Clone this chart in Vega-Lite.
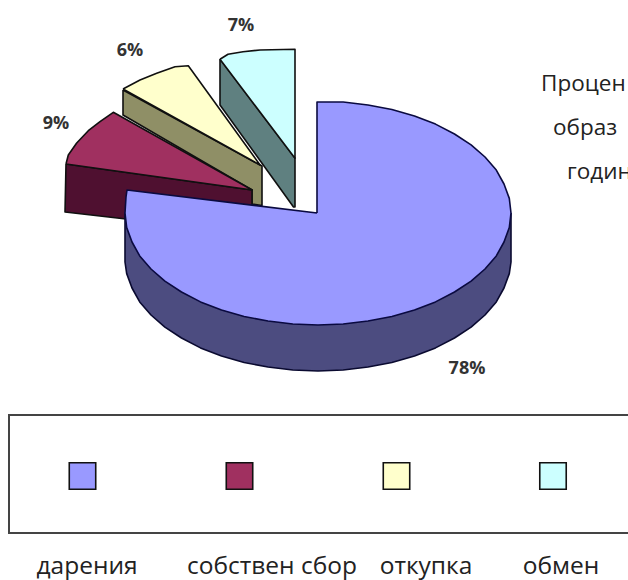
{"$schema":"https://vega.github.io/schema/vega-lite/v6.json","width":628,"height":580,"padding":0,"autosize":"none","background":"white","view":{"stroke":null},
"resolve":{"scale":{"fill":"independent"}},
"datasets":{
"shapes":[
{"p":"a","x":220,"y":59},{"p":"a","x":220,"y":105},{"p":"a","x":293.5,"y":207},{"p":"a","x":295,"y":207},{"p":"a","x":295,"y":158},{"p":"a","x":220,"y":59},
{"p":"b","x":220,"y":59.3},{"p":"b","x":228,"y":54.3},{"p":"b","x":243,"y":51.7},{"p":"b","x":260,"y":50},{"p":"b","x":295,"y":49.3},{"p":"b","x":295,"y":158.3},{"p":"b","x":220,"y":59.3},
{"p":"c","x":123,"y":90},{"p":"c","x":123,"y":115},{"p":"c","x":252,"y":190},{"p":"c","x":252,"y":204},{"p":"c","x":262,"y":205.5},{"p":"c","x":262,"y":166},{"p":"c","x":123,"y":90},
{"p":"d","x":123,"y":89},{"p":"d","x":140,"y":80},{"p":"d","x":156.7,"y":73.3},{"p":"d","x":175,"y":66.7},{"p":"d","x":188.3,"y":65.7},{"p":"d","x":260,"y":165},{"p":"d","x":123,"y":89},
{"p":"e","x":66,"y":164},{"p":"e","x":65,"y":212},{"p":"e","x":126,"y":219},{"p":"e","x":252,"y":206},{"p":"e","x":252,"y":190},{"p":"e","x":66,"y":164},
{"p":"f","x":66,"y":164},{"p":"f","x":68.3,"y":155},{"p":"f","x":76.7,"y":143},{"p":"f","x":88.3,"y":130.7},{"p":"f","x":100,"y":121.7},{"p":"f","x":113.3,"y":112.3},{"p":"f","x":252.3,"y":190},{"p":"f","x":66,"y":164},
{"p":"g","x":511,"y":213},{"p":"g","x":511,"y":262},{"p":"g","x":509.3,"y":273.6},{"p":"g","x":504,"y":288},{"p":"g","x":496.3,"y":301.9},{"p":"g","x":485,"y":315},{"p":"g","x":471.1,"y":327.2},{"p":"g","x":454.5,"y":338},{"p":"g","x":435.5,"y":347.9},{"p":"g","x":414.5,"y":356},{"p":"g","x":391.9,"y":362.5},{"p":"g","x":368,"y":367},{"p":"g","x":343.2,"y":370},{"p":"g","x":318,"y":371},{"p":"g","x":292.8,"y":370},{"p":"g","x":268,"y":367},{"p":"g","x":244.1,"y":362.5},{"p":"g","x":221.5,"y":356},{"p":"g","x":200.5,"y":347.9},{"p":"g","x":181.5,"y":338},{"p":"g","x":164.9,"y":327.2},{"p":"g","x":151,"y":315},{"p":"g","x":139.7,"y":301.9},{"p":"g","x":132,"y":288},{"p":"g","x":126.7,"y":273.6},{"p":"g","x":125,"y":262},{"p":"g","x":125,"y":213},{"p":"g","x":511,"y":213},
{"p":"h","x":317,"y":213},{"p":"h","x":317,"y":102},{"p":"h","x":343.2,"y":102},{"p":"h","x":368,"y":105},{"p":"h","x":391.9,"y":109.5},{"p":"h","x":414.5,"y":116},{"p":"h","x":435.5,"y":124.1},{"p":"h","x":454.5,"y":134},{"p":"h","x":471.1,"y":144.8},{"p":"h","x":485,"y":157},{"p":"h","x":496.3,"y":170.1},{"p":"h","x":504,"y":184},{"p":"h","x":509.3,"y":198.4},{"p":"h","x":511,"y":213},{"p":"h","x":509.3,"y":227.6},{"p":"h","x":504,"y":242},{"p":"h","x":496.3,"y":255.9},{"p":"h","x":485,"y":269},{"p":"h","x":471.1,"y":281.2},{"p":"h","x":454.5,"y":292},{"p":"h","x":435.5,"y":301.9},{"p":"h","x":414.5,"y":310},{"p":"h","x":391.9,"y":316.5},{"p":"h","x":368,"y":321},{"p":"h","x":343.2,"y":324},{"p":"h","x":318,"y":325},{"p":"h","x":292.8,"y":324},{"p":"h","x":268,"y":321},{"p":"h","x":244.1,"y":316.5},{"p":"h","x":221.5,"y":310},{"p":"h","x":200.5,"y":301.9},{"p":"h","x":181.5,"y":292},{"p":"h","x":164.9,"y":281.2},{"p":"h","x":151,"y":269},{"p":"h","x":139.7,"y":255.9},{"p":"h","x":132,"y":242},{"p":"h","x":126.7,"y":227.6},{"p":"h","x":125,"y":213},{"p":"h","x":126,"y":197},{"p":"h","x":127,"y":190},{"p":"h","x":317,"y":213}
],
"frame":[{"x":628,"y":415},{"x":9,"y":415},{"x":9,"y":533},{"x":628,"y":533}],
"pct":[{"t":"7%","x":241,"y":26},{"t":"6%","x":130,"y":51},{"t":"9%","x":56,"y":124},{"t":"78%","x":467,"y":369}],
"title":[{"t":"Процен","x":541,"y":84},{"t":"образ","x":553,"y":128},{"t":"годин","x":567,"y":172}],
"legend":[{"c":"дарения","x":82.5,"y":476,"lx":87,"ly":567},{"c":"собствен сбор","x":239.5,"y":476,"lx":272,"ly":567},{"c":"откупка","x":396.5,"y":476,"lx":426,"ly":567},{"c":"обмен","x":553,"y":476,"lx":561,"ly":567}]
},
"layer":[
{"data":{"name":"shapes"},"mark":{"type":"line","strokeWidth":1.6,"strokeJoin":"round"},"encoding":{
"x":{"field":"x","type":"quantitative","scale":{"domain":[0,628],"nice":false},"axis":null},
"y":{"field":"y","type":"quantitative","scale":{"domain":[580,0],"nice":false},"axis":null},
"detail":{"field":"p"},"order":{"value":null},
"fill":{"field":"p","type":"nominal","legend":null,"scale":{"domain":["a","b","c","d","e","f","g","h"],"range":["#5f8080","#ccffff","#8f8f66","#ffffcc","#4f1030","#a03060","#4c4c80","#9999ff"]}},
"stroke":{"field":"p","type":"nominal","legend":null,"scale":{"domain":["a","b","c","d","e","f","g","h"],"range":["#101010","#101010","#101010","#101010","#101010","#101010","#0a0a30","#0a0a40"]}}
}},
{"data":{"name":"frame"},"mark":{"type":"line","stroke":"#444444","strokeWidth":2},"encoding":{"x":{"field":"x","type":"quantitative"},"y":{"field":"y","type":"quantitative"},"order":{"value":null}}},
{"data":{"name":"legend"},"mark":{"type":"point","shape":"square","filled":true,"size":700,"stroke":"#111111","strokeWidth":1.6,"opacity":1},"encoding":{"x":{"field":"x","type":"quantitative"},"y":{"field":"y","type":"quantitative"},
"fill":{"field":"c","type":"nominal","legend":null,"scale":{"domain":["дарения","собствен сбор","откупка","обмен"],"range":["#9999ff","#a03060","#ffffcc","#ccffff"]}}}},
{"data":{"name":"legend"},"mark":{"type":"text","font":"Open Sans","fontSize":24.5,"color":"#222222"},"encoding":{"x":{"field":"lx","type":"quantitative"},"y":{"field":"ly","type":"quantitative"},"text":{"field":"c"}}},
{"data":{"name":"pct"},"mark":{"type":"text","font":"Open Sans","fontSize":18,"fontWeight":"bold","color":"#333333"},"encoding":{"x":{"field":"x","type":"quantitative"},"y":{"field":"y","type":"quantitative"},"text":{"field":"t"}}},
{"data":{"name":"title"},"mark":{"type":"text","font":"Open Sans","fontSize":22.5,"align":"left","color":"#222222"},"encoding":{"x":{"field":"x","type":"quantitative"},"y":{"field":"y","type":"quantitative"},"text":{"field":"t"}}}
]}
